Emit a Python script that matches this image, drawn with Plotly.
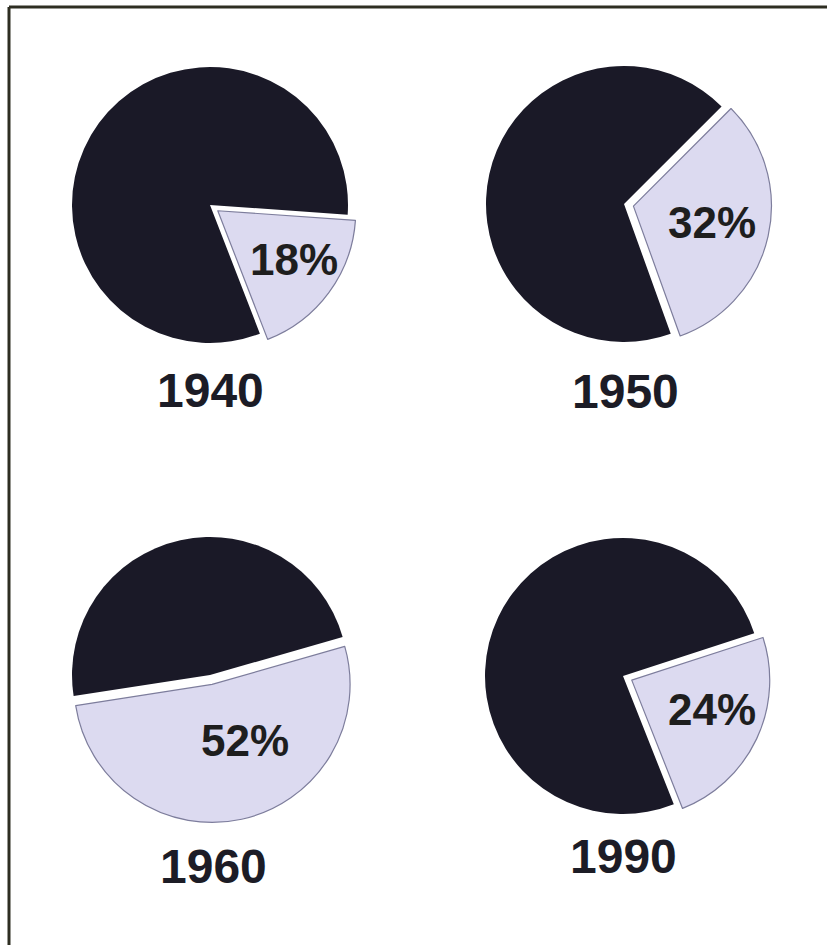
import plotly.graph_objects as go

# ---- data ----
years = ["1940", "1950", "1960", "1990"]
share_pct = [18, 32, 52, 24]          # light (highlighted) share, percent
slice_names = ["Share", "Rest"]

# ---- layout / geometry (pixels in a 827x945 page) ----
W, H = 827, 945
R = 138
PULL = 0.07
centers = [(210, 205), (624, 204), (210, 675), (623, 676)]
rotations = [94, 45, 74, 72]
pct_label_pos = [(294, 259), (712, 222), (245, 740), (712, 709)]
year_label_pos = [(210, 390), (625, 391), (213, 866), (623, 856)]

DARK = "#1a1927"
LIGHT = "#dcdaf0"
FONT = "Liberation Sans, Arial, Helvetica, sans-serif"

fig = go.Figure()
box = 2 * R * (1 + PULL)
for yr, pct, (cx, cy), rot in zip(years, share_pct, centers, rotations):
    fig.add_trace(go.Pie(
        labels=slice_names,
        values=[pct, 100 - pct],
        sort=False,
        direction="clockwise",
        rotation=rot,
        pull=[PULL, 0],
        marker=dict(colors=[LIGHT, DARK],
                    line=dict(color=["#7d7d9c", "rgba(0,0,0,0)"], width=[1.2, 0])),
        textinfo="none",
        hoverinfo="label+percent",
        showlegend=False,
        domain=dict(x=[(cx - box / 2) / W, (cx + box / 2) / W],
                    y=[1 - (cy + box / 2) / H, 1 - (cy - box / 2) / H]),
        name=yr,
    ))

annotations = []
for pct, (px, py) in zip(share_pct, pct_label_pos):
    annotations.append(dict(x=px / W, y=1 - py / H, xref="paper", yref="paper",
                            text=f"{pct}%", showarrow=False,
                            xanchor="center", yanchor="middle",
                            font=dict(family=FONT, size=44, color="#1e1e1e", weight="bold")))
for yr, (px, py) in zip(years, year_label_pos):
    annotations.append(dict(x=px / W, y=1 - py / H, xref="paper", yref="paper",
                            text=yr, showarrow=False,
                            xanchor="center", yanchor="middle",
                            font=dict(family=FONT, size=48, color="#1c1c26", weight="bold")))

shapes = [
    dict(type="line", xref="paper", yref="paper", x0=9 / W, y0=0, x1=9 / W, y1=1 - 7 / H,
         line=dict(color="#2e2e22", width=3)),
    dict(type="line", xref="paper", yref="paper", x0=9 / W, y0=1 - 7 / H, x1=1, y1=1 - 7 / H,
         line=dict(color="#2e2e22", width=3)),
]

fig.update_layout(
    width=W, height=H,
    margin=dict(l=0, r=0, t=0, b=0),
    paper_bgcolor="white", plot_bgcolor="white",
    annotations=annotations, shapes=shapes,
)

fig.write_html("out.html",
               config={"displayModeBar": False},
               post_script="document.body.style.margin='0';document.body.style.overflow='hidden';")
